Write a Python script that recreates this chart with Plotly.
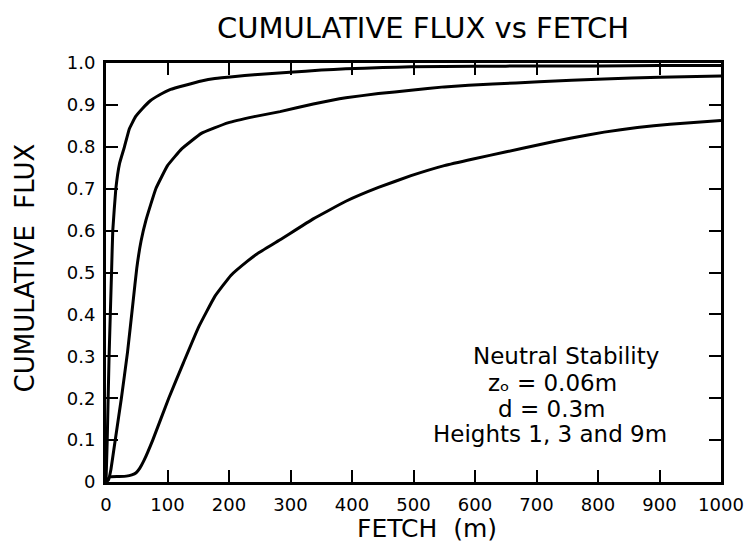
import plotly.graph_objects as go

# ---- data ----
fetch_1m = [0, 2, 5, 9, 11, 16, 22, 30, 38, 48, 59, 72, 86, 105, 129, 155, 177, 210, 241, 299, 350, 390, 450, 496, 600, 700, 800, 900, 1000]
flux_1m = [0, 0.10, 0.30, 0.50, 0.60, 0.70, 0.76, 0.80, 0.843, 0.872, 0.891, 0.910, 0.923, 0.937, 0.947, 0.957, 0.963, 0.968, 0.972, 0.978, 0.983, 0.986, 0.989, 0.991, 0.992, 0.993, 0.993, 0.994, 0.994]

fetch_3m = [0, 4, 8, 16, 25, 35, 44, 50, 57, 65, 81, 100, 123, 155, 198, 241, 283, 337, 390, 443, 496, 550, 629, 704, 810, 900, 1000]
flux_3m = [0, 0.005, 0.03, 0.11, 0.20, 0.31, 0.43, 0.51, 0.575, 0.625, 0.700, 0.755, 0.795, 0.832, 0.857, 0.872, 0.884, 0.902, 0.917, 0.927, 0.935, 0.943, 0.950, 0.955, 0.962, 0.966, 0.969]

fetch_9m = [0, 6, 20, 33, 42, 49, 55, 62, 76, 102, 126, 150, 177, 203, 230, 246, 283, 337, 390, 443, 496, 550, 597, 651, 704, 757, 810, 864, 917, 1000]
flux_9m = [0, 0.012, 0.013, 0.014, 0.017, 0.022, 0.033, 0.052, 0.10, 0.20, 0.285, 0.368, 0.443, 0.493, 0.527, 0.545, 0.578, 0.628, 0.670, 0.703, 0.731, 0.755, 0.771, 0.788, 0.805, 0.821, 0.835, 0.846, 0.854, 0.863]

x_ticks = [0, 100, 200, 300, 400, 500, 600, 700, 800, 900, 1000]
x_tick_text = ["0", "100", "200", "300", "400", "500", "600", "700", "800", "900", "1000"]
y_ticks = [0, 0.1, 0.2, 0.3, 0.4, 0.5, 0.6, 0.7, 0.8, 0.9, 1.0]
y_tick_text = ["0", "0.1", "0.2", "0.3", "0.4", "0.5", "0.6", "0.7", "0.8", "0.9", "1.0"]

title_text = "CUMULATIVE FLUX vs FETCH"
x_title = "FETCH\u00a0\u00a0(m)"
y_title = "CUMULATIVE\u00a0\u00a0FLUX"
note_lines = ["Neutral Stability", "z\u2092 = 0.06m", "d = 0.3m", "Heights 1, 3 and 9m"]

FONT = "DejaVu Sans"

fig = go.Figure()
for xs, ys in [(fetch_1m, flux_1m), (fetch_3m, flux_3m), (fetch_9m, flux_9m)]:
    fig.add_trace(go.Scatter(x=xs, y=ys, mode="lines",
                             line=dict(color="black", width=3, shape="spline", smoothing=0.3),
                             showlegend=False, hoverinfo="skip"))

W, H = 756, 551
ml, mr, mt, mb = 106, 24, 63, 69
pw, ph = W - ml - mr, H - mt - mb

def px_x(p):
    return (p - ml) / pw

def px_y(p):
    return (H - mb - p) / ph

annotations = []
annotations.append(dict(text=title_text, x=px_x(429), y=px_y(28), xref="paper", yref="paper",
                        showarrow=False, font=dict(family=FONT, size=29, color="black"),
                        xanchor="center", yanchor="middle"))
annotations.append(dict(text=x_title, x=px_x(433), y=px_y(528), xref="paper", yref="paper",
                        showarrow=False, font=dict(family=FONT, size=25, color="black"),
                        xanchor="center", yanchor="middle"))
annotations.append(dict(text=y_title, x=px_x(24), y=px_y(268), xref="paper", yref="paper",
                        showarrow=False, textangle=-90, font=dict(family=FONT, size=26, color="black"),
                        xanchor="center", yanchor="middle"))
note_pos = [(574, 356), (560, 383), (559, 409), (558, 434)]
for txt, (cx, cy) in zip(note_lines, note_pos):
    annotations.append(dict(text=txt, x=px_x(cx), y=px_y(cy), xref="paper", yref="paper",
                            showarrow=False, font=dict(family=FONT, size=23, color="black"),
                            xanchor="center", yanchor="middle", borderpad=0))

axis_common = dict(showline=True, linecolor="black", linewidth=3, mirror="ticks",
                   ticks="inside", ticklen=12, tickwidth=1.5, tickcolor="black",
                   showgrid=False, zeroline=False, ticklabelstandoff=4,
                   tickfont=dict(family=FONT, size=18, color="black"))

fig.update_layout(
    width=W, height=H,
    margin=dict(l=ml, r=mr, t=mt, b=mb),
    paper_bgcolor="white", plot_bgcolor="white",
    xaxis=dict(range=[0, 1000], tickvals=x_ticks, ticktext=x_tick_text, **axis_common),
    yaxis=dict(range=[0, 1.0], tickvals=y_ticks, ticktext=y_tick_text, **axis_common),
    annotations=annotations,
)

fig.write_html("out.html")
